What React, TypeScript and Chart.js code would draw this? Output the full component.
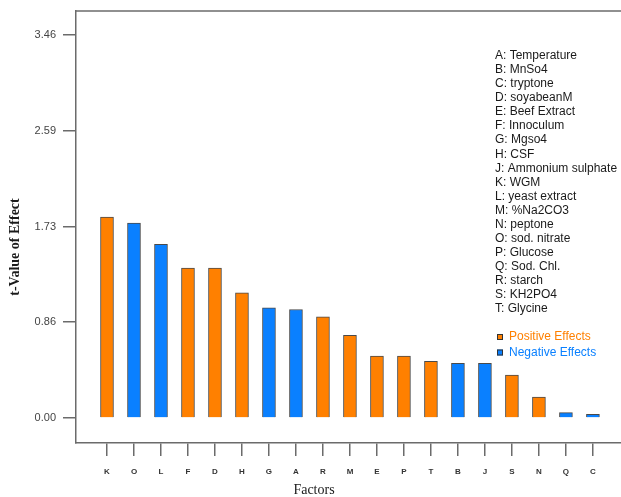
import React, { useEffect, useRef } from "react";
import { Chart, registerables } from "chart.js";

Chart.register(...registerables);

const categories = ["K", "O", "L", "F", "D", "H", "G", "A", "R", "M", "E", "P", "T", "B", "J", "S", "N", "Q", "C"];
const tValues = [1.816, 1.76, 1.57, 1.355, 1.355, 1.13, 0.996, 0.98, 0.915, 0.747, 0.56, 0.56, 0.512, 0.494, 0.494, 0.388, 0.19, 0.048, 0.033];
const effectSign = ["+", "-", "-", "+", "+", "+", "-", "-", "+", "+", "+", "+", "+", "-", "-", "+", "+", "-", "-"];
const yTickValues = [0, 0.865, 1.73, 2.595, 3.46];
const yTickLabels = ["0.00", "0.86", "1.73", "2.59", "3.46"];
const factorNames = [
  "A: Temperature",
  "B: MnSo4",
  "C: tryptone",
  "D: soyabeanM",
  "E: Beef Extract",
  "F: Innoculum",
  "G: Mgso4",
  "H: CSF",
  "J: Ammonium sulphate",
  "K: WGM",
  "L: yeast extract",
  "M: %Na2CO3",
  "N: peptone",
  "O: sod. nitrate",
  "P: Glucose",
  "Q: Sod. Chl.",
  "R: starch",
  "S: KH2PO4",
  "T: Glycine",
];
const effectLegend = ["Positive Effects", "Negative Effects"];
const xTitle = "Factors";
const yTitle = "t-Value of Effect";

const ORANGE = "#ff8000";
const BLUE = "#0a80ff";

const decorPlugin = {
  id: "decor",
  afterDraw(chart: any) {
    const ctx = chart.ctx;
    const ca = chart.chartArea;
    ctx.save();
    // top frame line
    ctx.strokeStyle = "#6b6b6b";
    ctx.lineWidth = 1.5;
    ctx.beginPath();
    ctx.moveTo(ca.left, ca.top);
    ctx.lineTo(chart.width, ca.top);
    ctx.stroke();

    // factor list
    ctx.font = '12px "Liberation Sans", Arial, sans-serif';
    ctx.textBaseline = "middle";
    ctx.textAlign = "left";
    ctx.fillStyle = "#1a1a1a";
    factorNames.forEach((t, i) => {
      ctx.fillText(t, 495, 55.7 + i * 14.07);
    });
    // effect legend
    const cols = [ORANGE, BLUE];
    effectLegend.forEach((t, i) => {
      const y = 337 + i * 15.5;
      ctx.fillStyle = cols[i];
      ctx.fillRect(497, y - 3, 6, 6);
      ctx.strokeStyle = "#333";
      ctx.lineWidth = 1;
      ctx.strokeRect(497.5, y - 2.5, 5, 5);
      ctx.fillStyle = cols[i];
      ctx.fillText(t, 509, y);
    });

    // axis titles
    ctx.font = '14px "Liberation Serif", "Times New Roman", serif';
    ctx.fillStyle = "#1a1a1a";
    ctx.textAlign = "center";
    ctx.fillText(xTitle, 314, 490);

    ctx.translate(15, 247);
    ctx.rotate(-Math.PI / 2);
    ctx.font = 'bold 14px "Liberation Serif", "Times New Roman", serif';
    ctx.fillText(yTitle, 0, 0);
    ctx.restore();
  },
};

export default function App() {
  const ref = useRef<HTMLCanvasElement>(null);
  useEffect(() => {
    if (!ref.current) return;
    const chart = new Chart(ref.current, {
      type: "bar",
      data: {
        datasets: [
          {
            data: categories.map((c, i) => ({ x: i, y: tValues[i] })) as any,
            backgroundColor: effectSign.map((s) => (s === "+" ? ORANGE : BLUE)),
            borderColor: "#4a4a4a",
            borderWidth: 1,
            barThickness: 13,
          },
        ],
      },
      plugins: [decorPlugin],
      options: {
        animation: false,
        responsive: true,
        maintainAspectRatio: false,
        layout: { padding: { top: 11, left: 0, right: 0, bottom: 0 } },
        plugins: { legend: { display: false }, tooltip: { enabled: false } },
        scales: {
          x: {
            type: "linear",
            offset: false,
            min: -1.148,
            max: 19.04,
            afterBuildTicks: (scale: any) => {
              scale.ticks = categories.map((c, i) => ({ value: i }));
            },
            afterFit: (scale: any) => {
              scale.height = 54;
              scale.paddingLeft = 0;
              scale.paddingRight = 0;
            },
            grid: { offset: false, drawOnChartArea: false, drawTicks: true, tickLength: 13, color: "#6b6b6b", lineWidth: 1.5 },
            border: { display: true, color: "#6b6b6b", width: 1.5 },
            ticks: {
              autoSkip: false,
              maxRotation: 0,
              padding: 11,
              color: "#333",
              font: { size: 8, weight: "bold", family: '"Liberation Sans", Arial, sans-serif' },
              callback: (v: any) => categories[Math.round(Number(v))] ?? "",
            },
          },
          y: {
            type: "linear",
            min: -0.226,
            max: 3.677,
            afterBuildTicks: (scale: any) => {
              scale.ticks = yTickValues.map((v) => ({ value: v }));
            },
            afterFit: (scale: any) => {
              scale.width = 76;
              scale.paddingTop = 0;
              scale.paddingBottom = 0;
            },
            grid: { drawOnChartArea: false, drawTicks: true, tickLength: 13, color: "#6b6b6b", lineWidth: 1.5 },
            border: { display: true, color: "#6b6b6b", width: 1.5 },
            ticks: {
              padding: 7,
              color: "#444",
              font: { size: 11, family: '"Liberation Sans", Arial, sans-serif' },
              callback: (v: any, i: number) => yTickLabels[i],
            },
          },
        },
      },
    });
    return () => chart.destroy();
  }, []);
  return (
    <div style={{ position: "absolute", left: 0, top: 0, width: 621, height: 497, background: "#fff" }}>
      <canvas ref={ref} />
    </div>
  );
}
